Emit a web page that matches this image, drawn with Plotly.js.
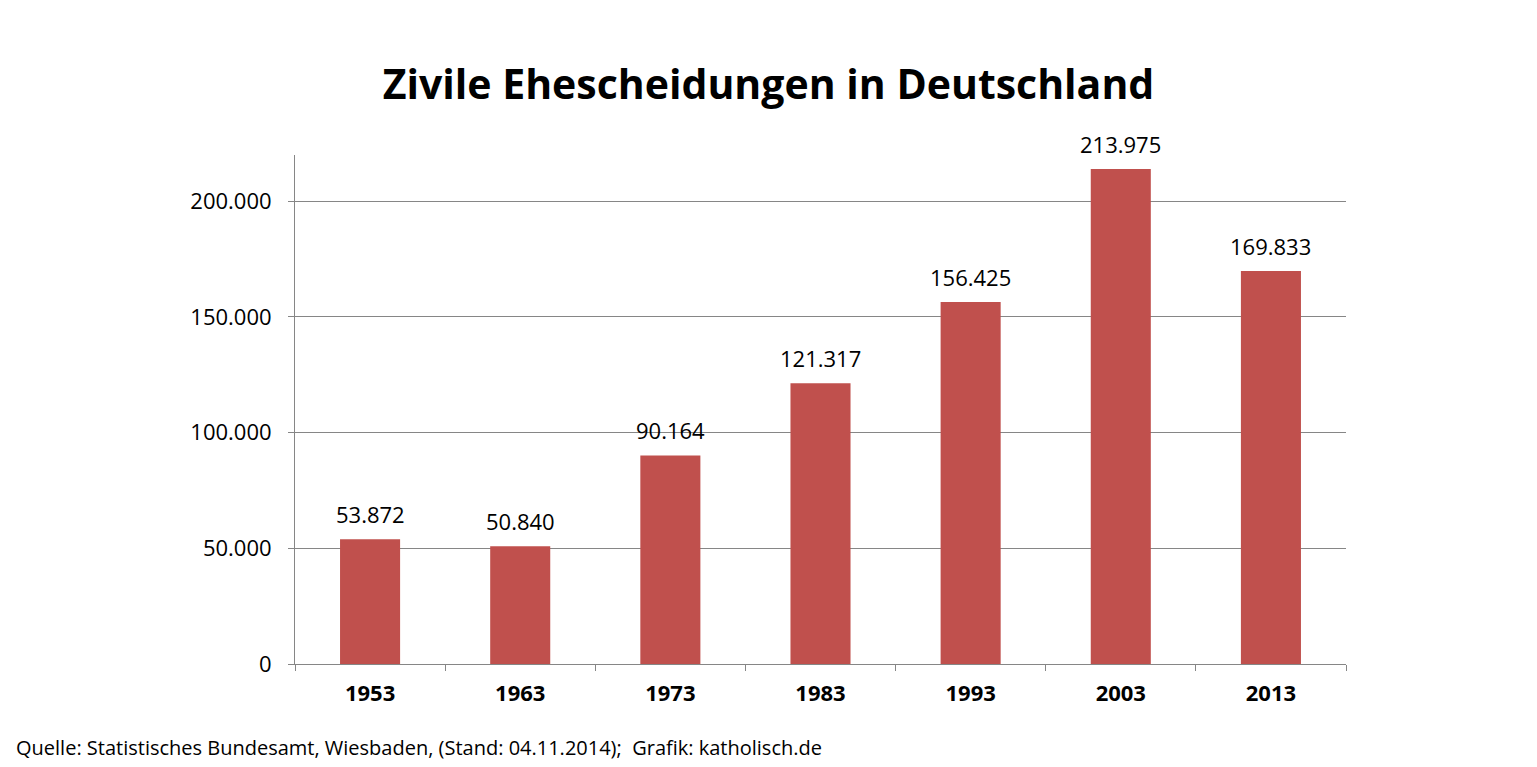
<!DOCTYPE html>
<html>
<head>
<meta charset="utf-8">
<script src="https://cdn.plot.ly/plotly-3.0.1.min.js"></script>
<style>body{margin:0;background:#fff}#chart{width:1537px;height:767px}</style>
</head>
<body>
<div id="chart"></div>
<script>
var years = ["1953", "1963", "1973", "1983", "1993", "2003", "2013"];
var divorces = [53872, 50840, 90164, 121317, 156425, 213975, 169833];
var yTicks = [0, 50000, 100000, 150000, 200000];

var trace = {
    type: "bar",
    x: years,
    y: divorces,
    width: 0.4,
    marker: {color: "#c0504d"},
    hoverinfo: "none"
};

// value labels above the bars (x given as category index)
var annotations = [];
for (var i = 0; i < years.length; i++) {
    annotations.push({
        x: i, y: divorces[i],
        xref: "x", yref: "y",
        text: divorces[i].toLocaleString("de-DE"),
        showarrow: false,
        yanchor: "bottom", yshift: 8,
        font: {family: "Open Sans", size: 22, color: "#000"}
    });
}
annotations.push({
    text: "Quelle: Statistisches Bundesamt, Wiesbaden, (Stand: 04.11.2014);  Grafik: katholisch.de",
    xref: "paper", yref: "paper",
    x: -281 / 1051, y: -83 / 509,
    xanchor: "left", yanchor: "middle",
    showarrow: false,
    font: {family: "Open Sans", size: 20, color: "#000"}
});

var layout = {
    width: 1537,
    height: 767,
    separators: ",.",
    margin: {l: 295, r: 191, t: 155, b: 103},
    paper_bgcolor: "#fff",
    plot_bgcolor: "#fff",
    showlegend: false,
    title: {
        text: "<b>Zivile Ehescheidungen in Deutschland</b>",
        font: {family: "Open Sans", size: 41, color: "#000"},
        x: 0.5, xanchor: "center", y: 0.89, yanchor: "middle"
    },
    xaxis: {
        type: "category",
        showline: true, linecolor: "#868686", linewidth: 1,
        ticks: "outside", tickson: "boundaries", ticklen: 6, tickcolor: "#868686",
        ticklabelstandoff: 10,
        tickfont: {family: "Open Sans", size: 22, color: "#000", weight: "bold"},
        showgrid: false
    },
    yaxis: {
        range: [0, 220000],
        tickvals: yTicks,
        tickformat: ",d",
        showline: true, linecolor: "#868686", linewidth: 1,
        ticks: "outside", ticklen: 6, tickcolor: "#868686",
        ticklabelstandoff: 12,
        gridcolor: "#868686", gridwidth: 1,
        zeroline: false,
        tickfont: {family: "Open Sans", size: 22, color: "#000"}
    },
    annotations: annotations
};

Plotly.newPlot("chart", [trace], layout, {displayModeBar: false, staticPlot: true});
</script>
</body>
</html>
